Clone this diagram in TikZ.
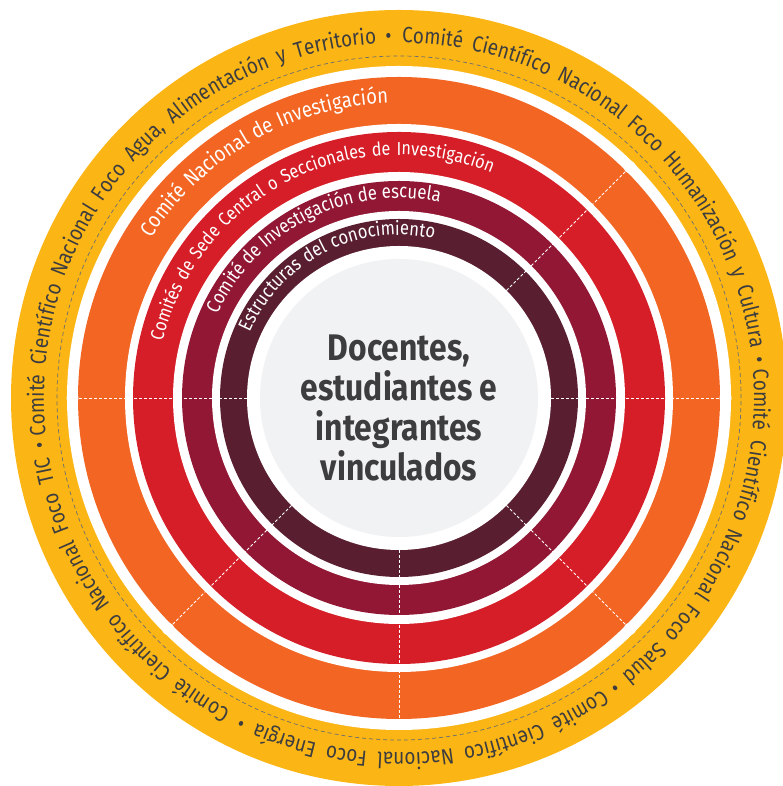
\documentclass[tikz,border=0pt]{standalone}
\usepackage{fontspec}
\usepackage{xcolor}
\usepackage{tikz}
\usetikzlibrary{decorations.text}
\setmainfont{Fira Sans}
\newfontfamily\narrowfont[FakeStretch=0.86]{Fira Sans}
\definecolor{focoyellow}{RGB}{251,182,22}
\definecolor{nacionalorange}{RGB}{242,101,34}
\definecolor{sedered}{RGB}{213,30,39}
\definecolor{escuelamaroon}{RGB}{145,23,52}
\definecolor{estructuradark}{RGB}{89,30,48}
\definecolor{centergray}{RGB}{241,242,244}
\definecolor{textgray}{RGB}{61,61,63}

\begin{document}
\begin{tikzpicture}[
    x=1pt, y=1pt,
    divider/.style={white, dash pattern=on 3pt off 2pt, line width=0.8pt},
    arclabel/.style={decorate, decoration={text along path, text align=fit to path stretching spaces, text color=#1}}
]
    \useasboundingbox (0,0) rectangle (782,786);
    \coordinate (c) at (399,388);

    % Rings, from the outside in
    \fill[focoyellow] (c) circle[radius=388];
    \fill[white] (c) circle[radius=332];
    \fill[nacionalorange] (c) circle[radius=321];
    \fill[white] (c) circle[radius=274];
    \fill[sedered] (c) circle[radius=266];
    \fill[white] (c) circle[radius=226];
    \fill[escuelamaroon] (c) circle[radius=217];
    \fill[white] (c) circle[radius=187];
    \fill[estructuradark] (c) circle[radius=179];
    \fill[white] (c) circle[radius=152];
    \fill[centergray] (c) circle[radius=139];

    % Dashed guide in the outer band
    \draw[textgray!75, dash pattern=on 4pt off 3pt, line width=0.7pt] (c) circle[radius=342];

    % Section dividers
    \foreach \ang in {0,45,180,225,270,315}
        \draw[divider] (c) ++(\ang:152) -- ++(\ang:170);
    \foreach \ang in {0,45,180,225,315}
        \fill[white] (c) ++(\ang:326.5) circle[radius=6];

    % Outer band: national focus committees
    \path[arclabel=textgray, decoration={text={|\narrowfont\fontsize{22}{22}\selectfont|Comité Científico Nacional Foco Agua, Alimentación y Territorio •}}]
        (c) ++(186:355) arc[start angle=186, end angle=91.2, radius=355];
    \path[arclabel=textgray, decoration={text={|\narrowfont\fontsize{22}{22}\selectfont|Comité Científico Nacional Foco Humanización y Cultura •}}]
        (c) ++(89.5:355) arc[start angle=89.5, end angle=5.6, radius=355];
    \path[arclabel=textgray, decoration={text={|\narrowfont\fontsize{22}{22}\selectfont|Comité Científico Nacional Foco Salud •}}]
        (c) ++(4.6:355) arc[start angle=4.6, end angle=-53.7, radius=355];
    \path[arclabel=textgray, decoration={text={|\narrowfont\fontsize{22}{22}\selectfont|Comité Científico Nacional Foco Energía •}}]
        (c) ++(-55.1:355) arc[start angle=-55.1, end angle=-116.3, radius=355];
    \path[arclabel=textgray, decoration={text={|\narrowfont\fontsize{22}{22}\selectfont|Comité Científico Nacional Foco TIC •}}]
        (c) ++(-118.3:355) arc[start angle=-118.3, end angle=-173, radius=355];

    % Inner rings
    \path[arclabel=white, decoration={text={|\narrowfont\fontsize{21.5}{21.5}\selectfont|Comité Nacional de Investigación}}]
        (c) ++(147.2:295) arc[start angle=147.2, end angle=92.1, radius=295];
    \path[arclabel=white, decoration={text={|\narrowfont\fontsize{18.8}{18.8}\selectfont|Comités de Sede Central o Seccionales de Investigación}}]
        (c) ++(166.6:243) arc[start angle=166.6, end angle=67.6, radius=243];
    \path[arclabel=white, decoration={text={|\narrowfont\fontsize{19.5}{19.5}\selectfont|Comité de Investigación de escuela}}]
        (c) ++(155.2:200) arc[start angle=155.2, end angle=79.5, radius=200];
    \path[arclabel=white, decoration={text={|\narrowfont\fontsize{19.3}{19.3}\selectfont|Estructuras del conocimiento}}]
        (c) ++(156.3:163) arc[start angle=156.3, end angle=77.6, radius=163];

    % Centre
    \node[font=\narrowfont\bfseries\fontsize{37}{40}\selectfont, text=textgray, align=center] (people) at ([yshift=-10pt]c) {Docentes,\\estudiantes e\\integrantes\\vinculados};
\end{tikzpicture}
\end{document}
